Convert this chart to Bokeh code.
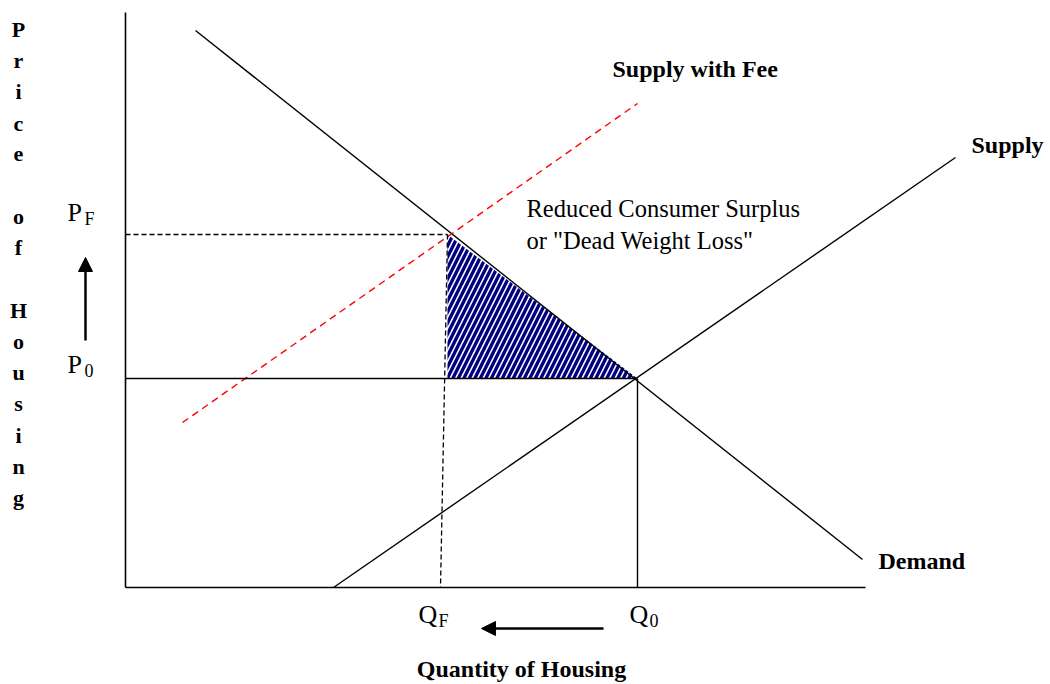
from bokeh.plotting import figure
from bokeh.models import Range1d, Arrow, NormalHead
from bokeh.core.properties import value
from bokeh.embed import file_html
from bokeh.resources import INLINE

# ---- data (quantity / price units) ----
axis_q_max = 740
axis_p_max = 575
demand_q = [70, 737]
demand_p = [557, 28]
supply_q = [208, 830]
supply_p = [0, 430]
fee_q = [57, 512]
fee_p = [165, 484]
q0 = 512
p0 = 209
qf_top = 322
qf_bottom = 315
pf = 353
dwl_q = [qf_top, qf_top, q0]
dwl_p = [pf, p0, p0]
ylabel = "Price of Housing"

FONT = value("Liberation Serif")

p = figure(width=1050, height=684, x_range=Range1d(-125, 925), y_range=Range1d(-97, 587),
           output_backend="svg", toolbar_location=None, min_border=0)
p.axis.visible = False
p.grid.visible = False
p.outline_line_color = None
p.background_fill_color = "white"

# hatched dead weight loss triangle
p.patch(dwl_q, dwl_p, fill_color="white", hatch_pattern="/", hatch_color="#000080",
        hatch_scale=11, hatch_weight=3.4, line_color=None)

# axes
p.line([0, 0], [0, axis_p_max], line_color="black", line_width=1.6)
p.line([0, axis_q_max], [0, 0], line_color="black", line_width=1.6)

# curves
p.line(demand_q, demand_p, line_color="black", line_width=1.4)
p.line(supply_q, supply_p, line_color="black", line_width=1.4)
p.line(fee_q, fee_p, line_color="red", line_width=1.4, line_dash="7 5")

# equilibrium lines
p.line([0, q0], [p0, p0], line_color="black", line_width=1.4)
p.line([q0, q0], [0, p0], line_color="black", line_width=1.4)
p.line([0, qf_top], [pf, pf], line_color="black", line_width=1.3, line_dash="5 3")
p.line([qf_top, qf_bottom], [pf, 0], line_color="black", line_width=1.3, line_dash="5 3")

# arrows
p.add_layout(Arrow(end=NormalHead(size=14, fill_color="black", line_color="black"),
                   x_start=-40, y_start=247, x_end=-40, y_end=330,
                   line_width=2.5, line_color="black"))
p.add_layout(Arrow(end=NormalHead(size=14, fill_color="black", line_color="black"),
                   x_start=478, y_start=-41, x_end=356, y_end=-41,
                   line_width=2.5, line_color="black"))

def txt(x, y, s, size, bold=False, align="left"):
    p.text(x=[x], y=[y], text=[s], text_font=FONT, text_font_size=size,
           text_font_style="bold" if bold else "normal", text_align=align,
           text_baseline="alphabetic", text_color="black")

# curve labels
txt(487, 519, "Supply with Fee", "24px", True)
txt(846, 443, "Supply", "24px", True)
txt(753, 27, "Demand", "24px", True)
txt(401, 379, "Reduced Consumer Surplus", "24.5px")
txt(401, 347, 'or "Dead Weight Loss"', "24.5px")
txt(396, -81, "Quantity of Housing", "24px", True, "center")

# price / quantity markers
txt(-58, 375, "P", "26px")
txt(-41, 369, "F", "18px")
txt(-58, 223, "P", "26px")
txt(-41, 217, "0", "18px")
txt(293, -27, "Q", "26px")
txt(313, -33, "F", "18px")
txt(504, -27, "Q", "26px")
txt(524, -33, "0", "18px")

# vertical stacked y label
ly_x = [-107] * len(ylabel)
ly_y = [587 - (29 + 31.2 * i) for i in range(len(ylabel))]
p.text(x=ly_x, y=ly_y, text=list(ylabel), text_font=FONT, text_font_size="22px",
       text_font_style="bold", text_align="center", text_baseline="alphabetic",
       text_color="black")

open("out.html", "w").write(file_html(p, INLINE))
